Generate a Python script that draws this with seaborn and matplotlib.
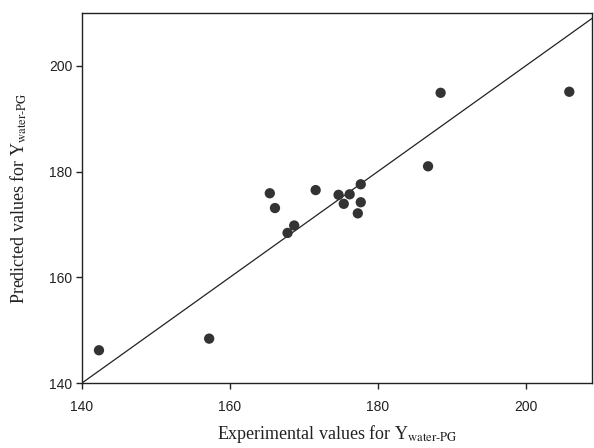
import matplotlib
matplotlib.use('Agg')
import pandas as pd
import matplotlib.pyplot as plt
import seaborn as sns

# valeurs
experimental = [142.3, 157.2, 165.4, 166.1, 167.8, 168.7, 171.6, 174.7, 175.4,
                176.2, 177.3, 177.7, 177.7, 186.8, 188.5, 205.9]
predicted = [146.2, 148.4, 175.9, 173.1, 168.4, 169.8, 176.5, 175.6, 173.9,
             175.7, 172.1, 174.2, 177.6, 181.0, 194.9, 195.1]
ideal_line = [140, 209]
ticks = [140, 160, 180, 200]

df = pd.DataFrame({'exp': experimental, 'pred': predicted})
df_line = pd.DataFrame({'x': ideal_line, 'y': ideal_line})

sns.set_style('ticks')
plt.rcParams['mathtext.fontset'] = 'stix'

fig = plt.figure(figsize=(5.94, 4.48), dpi=100)
ax = fig.add_axes([0.138, 0.145, 0.859, 0.826])

sns.lineplot(data=df_line, x='x', y='y', color='#222222', linewidth=0.9, ax=ax)
sns.scatterplot(data=df, x='exp', y='pred', color='#333333', s=55,
                edgecolor='none', ax=ax, zorder=3)

ax.set_xlim(140, 209)
ax.set_ylim(140, 210)
ax.set_xticks(ticks)
ax.set_yticks(ticks)
ax.tick_params(direction='out', length=4, width=1, colors='#222222',
               labelsize=10, top=False, right=False)
ax.tick_params(axis='x', pad=8)
ax.tick_params(axis='y', pad=3)
for lbl in ax.get_xticklabels() + ax.get_yticklabels():
    lbl.set_family('Liberation Sans')
for sp in ax.spines.values():
    sp.set_visible(True)
    sp.set_color('#222222')
    sp.set_linewidth(1)

ax.set_xlabel(r'Experimental values for Y$_{\text{water-PG}}$',
              family='Liberation Serif', fontsize=13, labelpad=7, color='#222222')
ax.set_ylabel(r'Predicted values for Y$_{\text{water-PG}}$',
              family='Liberation Serif', fontsize=13, labelpad=14, color='#222222')

fig.savefig('out.png', dpi=100)
